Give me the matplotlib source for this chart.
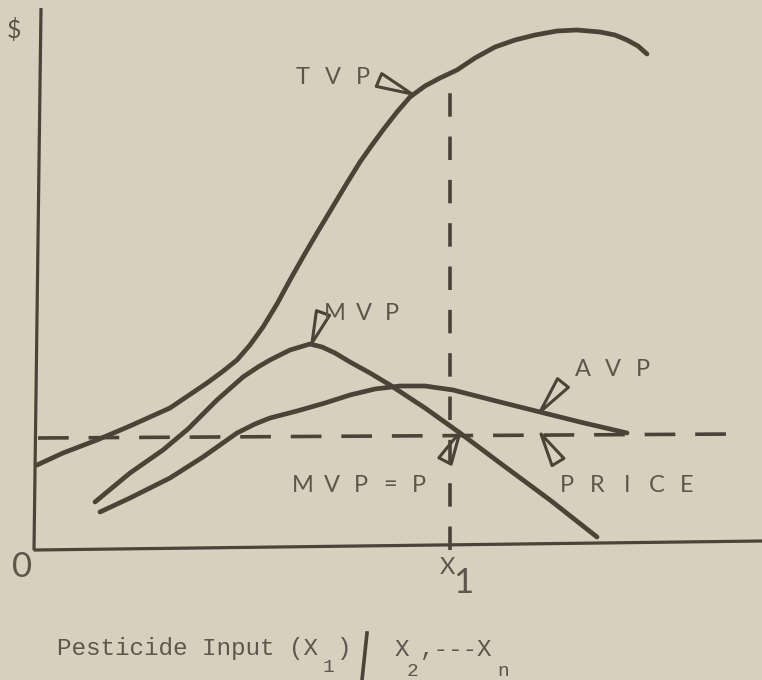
import matplotlib.pyplot as plt

# value curves (input units on x, dollars on y)
tvp_x = [0.2, 2.8, 6.2, 9.5, 13.5, 17.2, 18.7, 20.2, 21.5, 22.8, 24.2, 25.5, 26.8,
         28.2, 29.7, 31.2, 32.5, 33.7, 34.8, 36.2, 37.5, 39.0, 40.5, 42.2, 44.0,
         46.0, 48.0, 50.0, 52.2, 54.2, 56.5, 58.0, 59.2, 60.3, 61.2]
tvp_y = [8.5, 9.7, 11.0, 12.4, 14.2, 16.7, 17.8, 19.0, 20.5, 22.3, 24.6, 27.0, 29.3,
         31.7, 34.2, 36.7, 38.8, 40.5, 42.0, 43.8, 45.3, 46.4, 47.2, 48.0, 49.2,
         50.3, 51.0, 51.5, 51.9, 52.0, 51.8, 51.5, 51.0, 50.4, 49.6]

mvp_x = [6.0, 9.5, 12.8, 15.3, 18.2, 20.8, 22.3, 23.5, 25.5, 27.5, 28.7, 30.0,
         31.5, 33.5, 35.5, 39.0, 42.5, 46.5, 51.5, 56.2]
mvp_y = [4.8, 7.7, 10.0, 12.1, 15.0, 17.3, 18.3, 19.0, 20.0, 20.6, 20.3, 19.7,
         18.8, 17.7, 16.5, 14.2, 11.7, 8.7, 5.0, 1.3]

avp_x = [6.5, 9.5, 13.5, 16.8, 20.2, 22.0, 23.5, 26.2, 29.0, 31.5, 34.0, 36.5,
         39.0, 41.8, 46.5, 50.5, 54.5, 59.2]
avp_y = [3.8, 5.2, 7.2, 9.3, 11.7, 12.6, 13.2, 13.9, 14.7, 15.5, 16.1, 16.4,
         16.4, 16.0, 14.8, 13.8, 12.8, 11.7]

price = 11.6
x1 = 41.5
tvp_at_x1 = 47.7

ink = '#4b4238'
txt = '#5e564c'
paper = '#d7d0bf'
lab_font = 'Lato'

fig = plt.figure(figsize=(7.62, 6.8), dpi=100, facecolor=paper)
ax = fig.add_axes([0, 0, 1, 1])
ax.set_facecolor(paper)
ax.set_xlim(-3.5, 72.7)
ax.set_ylim(-13, 55)
ax.axis('off')

# axes drawn by hand
ax.plot([-0.1, 0.6], [0, 54.2], color=ink, lw=2.3, solid_capstyle='butt')
ax.plot([0, 72.7], [0, 0.9], color=ink, lw=2.3)

# price line and X1 drop line
pl, = ax.plot([0.3, 70], [price - 0.4, price], color=ink, lw=2.6)
pl.set_dashes((8.5, 5.5))
vl, = ax.plot([x1, x1], [0, tvp_at_x1], color=ink, lw=2.6)
vl.set_dashes((6.5, 5.5))

for xs, ys in [(tvp_x, tvp_y), (mvp_x, mvp_y), (avp_x, avp_y)]:
    ax.plot(xs, ys, color=ink, lw=3.4, solid_capstyle='round', solid_joinstyle='round')


def flag(tip, tail):
    ax.annotate('', xy=tip, xytext=tail,
                arrowprops=dict(arrowstyle='wedge,tail_width=0.5,shrink_factor=0.5',
                                fc='none', ec=ink, lw=2.2, mutation_scale=20,
                                shrinkA=0, shrinkB=0))


def spaced(x0, y, s, step=3.0, size=17):
    for i, ch in enumerate(s):
        ax.text(x0 + i * step, y, ch, ha='center', va='center', fontsize=size,
                color=txt, family=lab_font)


flag((37.7, 45.6), (34.4, 47.0))
flag((27.7, 20.7), (28.8, 23.7))
flag((50.5, 13.8), (52.8, 16.7))
flag((42.5, 11.8), (41.0, 8.9))
flag((50.6, 11.6), (52.3, 8.8))

spaced(26.8, 47.2, 'TVP')
spaced(30.0, 23.7, 'MVP', step=2.85)
spaced(54.8, 18.0, 'AVP')
spaced(26.8, 6.5, 'MVP=P', step=2.9)
spaced(53.2, 6.5, 'PRICE')

ax.text(-2.1, 52.0, '$', ha='center', va='center', fontsize=18, color=txt,
        family=lab_font)
ax.text(-1.3, -1.7, '0', ha='center', va='center', fontsize=25, color=txt,
        family=lab_font)
ax.text(41.2, -1.7, 'X', ha='center', va='center', fontsize=17, color=txt,
        family=lab_font)
ax.text(42.8, -3.3, '1', ha='center', va='center', fontsize=25, color=txt,
        family=lab_font)

# axis caption in typewriter style
mono = dict(color=txt, family='Liberation Mono', va='center')
ax.text(2.2, -9.9, 'Pesticide Input (X', ha='left', fontsize=17.5, **mono)
ax.text(29.3, -11.7, '1', ha='center', fontsize=14, **mono)
ax.text(30.8, -9.9, ')', ha='center', fontsize=17.5, **mono)
ax.plot([33.2, 32.7], [-8.3, -13.0], color=ink, lw=2.6)
ax.text(36.7, -9.9, 'X', ha='center', fontsize=17.5, **mono)
ax.text(37.8, -12.2, '2', ha='center', fontsize=14, **mono)
ax.text(38.5, -9.9, ',---X', ha='left', fontsize=17.5, **mono)
ax.text(46.8, -12.2, 'n', ha='center', fontsize=14, **mono)

plt.savefig('out.png', dpi=100, facecolor=paper)
